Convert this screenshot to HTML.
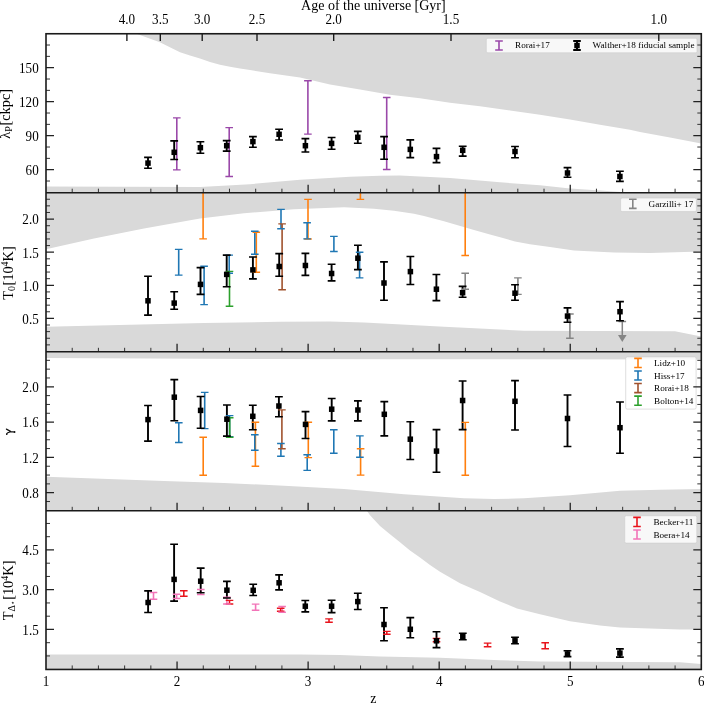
<!DOCTYPE html>
<html><head><meta charset="utf-8"><title>Thermal state of the IGM</title>
<style>html,body{margin:0;padding:0;background:#fff;}body{width:704px;height:703px;overflow:hidden;}svg{display:block;will-change:transform;font-family:"Liberation Serif",serif;}</style>
</head><body>
<svg width="704" height="703" viewBox="0 0 704 703" font-family="Liberation Serif, serif" fill="#000">
<defs>
<clipPath id="cp0"><rect x="46" y="33.75" width="655.3" height="158.95"/></clipPath>
<clipPath id="cp1"><rect x="46" y="192.7" width="655.3" height="159.1"/></clipPath>
<clipPath id="cp2"><rect x="46" y="351.8" width="655.3" height="159"/></clipPath>
<clipPath id="cp3"><rect x="46" y="510.8" width="655.3" height="158.65"/></clipPath>
</defs>
<rect width="704" height="703" fill="#fff"/>
<polygon clip-path="url(#cp0)" fill="#d9d9d9" points="135.8,33.75 135.8,33.6 159.8,42.3 180,52.3 190,55.5 200,58.6 210,62.1 220,64.7 230,66.8 240,68.5 250,70 270,73.2 300,77.6 330,84.5 360,89.6 390,94.8 420,98.3 450,102.7 480,106.2 510,110.4 540,114.7 570,119.6 600,124.7 630,129.8 640,132 670,137.6 701.2,143.6 701.2,33.75"/>
<polygon clip-path="url(#cp0)" fill="#d9d9d9" points="45.7,192.7 45.7,186.6 200,187 250,184.2 300,179.8 350,176.7 380,175.7 400,175.4 450,178.1 500,182.3 540,185.3 570,188.4 600,190.6 625,192.3 625,192.7"/>
<polygon clip-path="url(#cp1)" fill="#d9d9d9" points="45.7,192.7 45.7,249.2 94,238.4 144,228.4 200,218.5 244,213.2 294,209.3 344,207.2 374,208.7 394,210.7 414,213.8 424,216.1 444,221.2 474,229.9 490,234.5 502,237.8 515,241.4 530,244.2 550,246.9 574,250.4 594,251.5 614,252.4 650,252.9 701.2,251.6 701.2,192.7"/>
<polygon clip-path="url(#cp1)" fill="#d9d9d9" points="45.7,351.8 45.7,326.8 204,322.9 280,321.8 330,321.5 364,322.5 444,326.8 524,330.7 675,331.3 701.2,336.4 701.2,351.8"/>
<polygon clip-path="url(#cp2)" fill="#d9d9d9" points="45.7,351.8 45.7,357.9 200,358.8 400,359.2 701.2,359.5 701.2,351.8"/>
<polygon clip-path="url(#cp2)" fill="#d9d9d9" points="45.7,510.8 45.7,476.8 164,480.9 224,482.9 284,485.7 344,489.1 404,494.3 464,498.2 494,499 524,498.3 570,495.3 620,490.7 660,489.7 701.2,489 701.2,510.8"/>
<polygon clip-path="url(#cp3)" fill="#d9d9d9" points="366.5,510.8 366.5,510.3 370,515.3 380,526 390,534.2 400,542.3 410,550.4 420,557.6 430,564.9 440,571.7 450,577.4 460,583.2 480,592 500,601.5 517,608.5 540,614.3 570,621.3 600,625.5 620,627.4 680,629.5 701.2,629.6 701.2,510.8"/>
<polygon clip-path="url(#cp3)" fill="#d9d9d9" points="45.7,669.45 45.7,654.6 300,654.4 340,655 380,656.5 440,657.8 500,660.3 540,661.4 680,662.2 701.2,664 701.2,669.45"/>
<g stroke="#858585" stroke-width="1.5"><path d="M622.3 321.5V336M618.5 321.5H626.1"/></g>
<polygon fill="#858585" points="618,334.9 626.6,334.9 622.3,341.9"/>
<g fill="none">
<path clip-path="url(#cp0)" stroke="#000" stroke-width="1.9" d="M148 157.4V168.2"/>
<path clip-path="url(#cp0)" stroke="#000" stroke-width="1.9" d="M174.2 140.9V159.5"/>
<path clip-path="url(#cp0)" stroke="#000" stroke-width="1.9" d="M200.4 141.8V153.3"/>
<path clip-path="url(#cp0)" stroke="#000" stroke-width="1.9" d="M226.7 140.6V151.1"/>
<path clip-path="url(#cp0)" stroke="#000" stroke-width="1.9" d="M252.9 136.6V147.3"/>
<path clip-path="url(#cp0)" stroke="#000" stroke-width="1.9" d="M279.1 129.3V140"/>
<path clip-path="url(#cp0)" stroke="#000" stroke-width="1.9" d="M305.4 138.6V152"/>
<path clip-path="url(#cp0)" stroke="#000" stroke-width="1.9" d="M331.6 137.5V149.3"/>
<path clip-path="url(#cp0)" stroke="#000" stroke-width="1.9" d="M357.8 131.4V143.2"/>
<path clip-path="url(#cp0)" stroke="#000" stroke-width="1.9" d="M384.1 136.6V159.3"/>
<path clip-path="url(#cp0)" stroke="#000" stroke-width="1.9" d="M410.3 139.9V157.6"/>
<path clip-path="url(#cp0)" stroke="#000" stroke-width="1.9" d="M436.5 148.4V162.6"/>
<path clip-path="url(#cp0)" stroke="#000" stroke-width="1.9" d="M462.7 146.2V156.1"/>
<path clip-path="url(#cp0)" stroke="#000" stroke-width="1.9" d="M515 146.5V157.8"/>
<path clip-path="url(#cp0)" stroke="#000" stroke-width="1.9" d="M567.5 167.6V177.2"/>
<path clip-path="url(#cp0)" stroke="#000" stroke-width="1.9" d="M619.9 171.3V181.4"/>
<path clip-path="url(#cp0)" stroke="#9a48a9" stroke-width="1.6" d="M176.8 117.9V169.9"/>
<path clip-path="url(#cp0)" stroke="#9a48a9" stroke-width="1.6" d="M229.2 127.6V176.5"/>
<path clip-path="url(#cp0)" stroke="#9a48a9" stroke-width="1.6" d="M307.9 80.8V134.1"/>
<path clip-path="url(#cp0)" stroke="#9a48a9" stroke-width="1.6" d="M386.7 97.5V169.5"/>
<path clip-path="url(#cp1)" stroke="#ff7f0e" stroke-width="1.6" d="M203.1 150V238.9"/>
<path clip-path="url(#cp1)" stroke="#ff7f0e" stroke-width="1.6" d="M256.3 232.2V272.2"/>
<path clip-path="url(#cp1)" stroke="#ff7f0e" stroke-width="1.6" d="M308 199.4V239"/>
<path clip-path="url(#cp1)" stroke="#ff7f0e" stroke-width="1.6" d="M360.4 150V199.4"/>
<path clip-path="url(#cp1)" stroke="#ff7f0e" stroke-width="1.6" d="M465.2 150V255.5"/>
<path clip-path="url(#cp1)" stroke="#1f77b4" stroke-width="1.6" d="M178.7 249.4V275.1"/>
<path clip-path="url(#cp1)" stroke="#1f77b4" stroke-width="1.6" d="M204.1 266.3V304.6"/>
<path clip-path="url(#cp1)" stroke="#1f77b4" stroke-width="1.6" d="M229.2 255.1V273.3"/>
<path clip-path="url(#cp1)" stroke="#1f77b4" stroke-width="1.6" d="M254.8 231.2V254.3"/>
<path clip-path="url(#cp1)" stroke="#1f77b4" stroke-width="1.6" d="M281 209.4V228.7"/>
<path clip-path="url(#cp1)" stroke="#1f77b4" stroke-width="1.6" d="M307.1 222.7V238.9"/>
<path clip-path="url(#cp1)" stroke="#1f77b4" stroke-width="1.6" d="M333.9 236.4V251.5"/>
<path clip-path="url(#cp1)" stroke="#1f77b4" stroke-width="1.6" d="M359.6 252.3V277.9"/>
<path clip-path="url(#cp1)" stroke="#a0522d" stroke-width="1.6" d="M282.1 223.9V289.8"/>
<path clip-path="url(#cp1)" stroke="#2ca02c" stroke-width="1.6" d="M229.5 271.4V306.3"/>
<path clip-path="url(#cp1)" stroke="#858585" stroke-width="1.6" d="M465.2 273.3V289.2"/>
<path clip-path="url(#cp1)" stroke="#858585" stroke-width="1.6" d="M517.9 277.9V294.4"/>
<path clip-path="url(#cp1)" stroke="#858585" stroke-width="1.6" d="M569.9 314V338.3"/>
<path clip-path="url(#cp1)" stroke="#000" stroke-width="1.9" d="M148 276.2V315.1"/>
<path clip-path="url(#cp1)" stroke="#000" stroke-width="1.9" d="M174.2 291.7V309.2"/>
<path clip-path="url(#cp1)" stroke="#000" stroke-width="1.9" d="M200.5 267.6V294.4"/>
<path clip-path="url(#cp1)" stroke="#000" stroke-width="1.9" d="M226.7 255.1V286.8"/>
<path clip-path="url(#cp1)" stroke="#000" stroke-width="1.9" d="M252.9 257V278.9"/>
<path clip-path="url(#cp1)" stroke="#000" stroke-width="1.9" d="M279.2 253.6V276.2"/>
<path clip-path="url(#cp1)" stroke="#000" stroke-width="1.9" d="M305.4 253.4V275.4"/>
<path clip-path="url(#cp1)" stroke="#000" stroke-width="1.9" d="M331.6 264.2V280.9"/>
<path clip-path="url(#cp1)" stroke="#000" stroke-width="1.9" d="M357.9 245.2V269.6"/>
<path clip-path="url(#cp1)" stroke="#000" stroke-width="1.9" d="M384 261.9V300.3"/>
<path clip-path="url(#cp1)" stroke="#000" stroke-width="1.9" d="M410.4 256.5V284.5"/>
<path clip-path="url(#cp1)" stroke="#000" stroke-width="1.9" d="M436.4 274.5V300.6"/>
<path clip-path="url(#cp1)" stroke="#000" stroke-width="1.9" d="M462.6 286.4V297.2"/>
<path clip-path="url(#cp1)" stroke="#000" stroke-width="1.9" d="M515 284.7V300.3"/>
<path clip-path="url(#cp1)" stroke="#000" stroke-width="1.9" d="M567.5 307.9V322.2"/>
<path clip-path="url(#cp1)" stroke="#000" stroke-width="1.9" d="M620 301.6V320.8"/>
<path clip-path="url(#cp2)" stroke="#ff7f0e" stroke-width="1.6" d="M203.2 437.3V475.2"/>
<path clip-path="url(#cp2)" stroke="#ff7f0e" stroke-width="1.6" d="M255.4 422.3V466.3"/>
<path clip-path="url(#cp2)" stroke="#ff7f0e" stroke-width="1.6" d="M308.3 422.3V457.6"/>
<path clip-path="url(#cp2)" stroke="#ff7f0e" stroke-width="1.6" d="M360.6 448.8V475.1"/>
<path clip-path="url(#cp2)" stroke="#ff7f0e" stroke-width="1.6" d="M465.3 422.4V475.2"/>
<path clip-path="url(#cp2)" stroke="#1f77b4" stroke-width="1.6" d="M178.8 422.8V442.5"/>
<path clip-path="url(#cp2)" stroke="#1f77b4" stroke-width="1.6" d="M204.7 392.4V428.6"/>
<path clip-path="url(#cp2)" stroke="#1f77b4" stroke-width="1.6" d="M229.6 415.6V436.6"/>
<path clip-path="url(#cp2)" stroke="#1f77b4" stroke-width="1.6" d="M254.8 434.8V450.2"/>
<path clip-path="url(#cp2)" stroke="#1f77b4" stroke-width="1.6" d="M280.9 443.5V456.2"/>
<path clip-path="url(#cp2)" stroke="#1f77b4" stroke-width="1.6" d="M307.2 454.7V470.4"/>
<path clip-path="url(#cp2)" stroke="#1f77b4" stroke-width="1.6" d="M333.8 429.8V453.3"/>
<path clip-path="url(#cp2)" stroke="#1f77b4" stroke-width="1.6" d="M359.9 435.9V457.3"/>
<path clip-path="url(#cp2)" stroke="#a0522d" stroke-width="1.6" d="M281.9 409.9V448.8"/>
<path clip-path="url(#cp2)" stroke="#2ca02c" stroke-width="1.6" d="M229.7 417.8V437.2"/>
<path clip-path="url(#cp2)" stroke="#000" stroke-width="1.9" d="M148 405.5V441.1"/>
<path clip-path="url(#cp2)" stroke="#000" stroke-width="1.9" d="M174.3 379.6V420.8"/>
<path clip-path="url(#cp2)" stroke="#000" stroke-width="1.9" d="M200.6 396.5V428.3"/>
<path clip-path="url(#cp2)" stroke="#000" stroke-width="1.9" d="M226.9 405V436.1"/>
<path clip-path="url(#cp2)" stroke="#000" stroke-width="1.9" d="M252.8 405.2V429.7"/>
<path clip-path="url(#cp2)" stroke="#000" stroke-width="1.9" d="M278.9 396.7V416.7"/>
<path clip-path="url(#cp2)" stroke="#000" stroke-width="1.9" d="M305.5 411.6V438.5"/>
<path clip-path="url(#cp2)" stroke="#000" stroke-width="1.9" d="M331.7 398.5V420.9"/>
<path clip-path="url(#cp2)" stroke="#000" stroke-width="1.9" d="M357.9 400.9V420.9"/>
<path clip-path="url(#cp2)" stroke="#000" stroke-width="1.9" d="M384.3 401.6V435.9"/>
<path clip-path="url(#cp2)" stroke="#000" stroke-width="1.9" d="M410.3 421.7V459.5"/>
<path clip-path="url(#cp2)" stroke="#000" stroke-width="1.9" d="M436.5 429.6V472.2"/>
<path clip-path="url(#cp2)" stroke="#000" stroke-width="1.9" d="M462.6 381V429.6"/>
<path clip-path="url(#cp2)" stroke="#000" stroke-width="1.9" d="M515 380.6V430"/>
<path clip-path="url(#cp2)" stroke="#000" stroke-width="1.9" d="M567.5 395V446.5"/>
<path clip-path="url(#cp2)" stroke="#000" stroke-width="1.9" d="M620 402V453.2"/>
<path clip-path="url(#cp3)" stroke="#e8141c" stroke-width="1.6" d="M183.8 590.7V596.3"/>
<path clip-path="url(#cp3)" stroke="#e8141c" stroke-width="1.6" d="M229.5 600.4V604"/>
<path clip-path="url(#cp3)" stroke="#e8141c" stroke-width="1.6" d="M280.7 608.3V611.3"/>
<path clip-path="url(#cp3)" stroke="#e8141c" stroke-width="1.6" d="M329 618.9V622.3"/>
<path clip-path="url(#cp3)" stroke="#e8141c" stroke-width="1.6" d="M386.8 631.4V634.3"/>
<path clip-path="url(#cp3)" stroke="#e8141c" stroke-width="1.6" d="M436.5 638.4V641.8"/>
<path clip-path="url(#cp3)" stroke="#e8141c" stroke-width="1.6" d="M487.6 643.1V646.7"/>
<path clip-path="url(#cp3)" stroke="#e8141c" stroke-width="1.6" d="M545.2 642.7V648.8"/>
<path clip-path="url(#cp3)" stroke="#f274b8" stroke-width="1.6" d="M153.5 592.5V599.2"/>
<path clip-path="url(#cp3)" stroke="#f274b8" stroke-width="1.6" d="M176.6 594.2V598.5"/>
<path clip-path="url(#cp3)" stroke="#f274b8" stroke-width="1.6" d="M200.8 589.5V594.6"/>
<path clip-path="url(#cp3)" stroke="#f274b8" stroke-width="1.6" d="M226.9 597.3V604"/>
<path clip-path="url(#cp3)" stroke="#f274b8" stroke-width="1.6" d="M255.6 604.1V610.2"/>
<path clip-path="url(#cp3)" stroke="#f274b8" stroke-width="1.6" d="M282.1 606.5V612.2"/>
<path clip-path="url(#cp3)" stroke="#000" stroke-width="1.9" d="M148.1 590.9V612.5"/>
<path clip-path="url(#cp3)" stroke="#000" stroke-width="1.9" d="M174.1 544.2V601.1"/>
<path clip-path="url(#cp3)" stroke="#000" stroke-width="1.9" d="M200.7 568.1V592.7"/>
<path clip-path="url(#cp3)" stroke="#000" stroke-width="1.9" d="M226.9 581.4V598"/>
<path clip-path="url(#cp3)" stroke="#000" stroke-width="1.9" d="M253.2 584.2V595.5"/>
<path clip-path="url(#cp3)" stroke="#000" stroke-width="1.9" d="M279.1 574.9V589.9"/>
<path clip-path="url(#cp3)" stroke="#000" stroke-width="1.9" d="M305.3 600.5V611.9"/>
<path clip-path="url(#cp3)" stroke="#000" stroke-width="1.9" d="M331.6 600.2V612.6"/>
<path clip-path="url(#cp3)" stroke="#000" stroke-width="1.9" d="M357.8 593.2V609.5"/>
<path clip-path="url(#cp3)" stroke="#000" stroke-width="1.9" d="M384 607.7V640.8"/>
<path clip-path="url(#cp3)" stroke="#000" stroke-width="1.9" d="M410.3 617.6V637.8"/>
<path clip-path="url(#cp3)" stroke="#000" stroke-width="1.9" d="M436.5 631.8V647.6"/>
<path clip-path="url(#cp3)" stroke="#000" stroke-width="1.9" d="M462.8 633.2V639.8"/>
<path clip-path="url(#cp3)" stroke="#000" stroke-width="1.9" d="M515 637.2V643.7"/>
<path clip-path="url(#cp3)" stroke="#000" stroke-width="1.9" d="M567.5 650.8V656.6"/>
<path clip-path="url(#cp3)" stroke="#000" stroke-width="1.9" d="M619.9 648.9V657.1"/>
<path clip-path="url(#cp0)" stroke="#000" stroke-width="1.6" d="M144.1 157.4H151.9M144.1 168.2H151.9"/>
<path clip-path="url(#cp0)" stroke="#000" stroke-width="1.6" d="M170.3 140.9H178.1M170.3 159.5H178.1"/>
<path clip-path="url(#cp0)" stroke="#000" stroke-width="1.6" d="M196.5 141.8H204.3M196.5 153.3H204.3"/>
<path clip-path="url(#cp0)" stroke="#000" stroke-width="1.6" d="M222.8 140.6H230.6M222.8 151.1H230.6"/>
<path clip-path="url(#cp0)" stroke="#000" stroke-width="1.6" d="M249 136.6H256.8M249 147.3H256.8"/>
<path clip-path="url(#cp0)" stroke="#000" stroke-width="1.6" d="M275.2 129.3H283M275.2 140H283"/>
<path clip-path="url(#cp0)" stroke="#000" stroke-width="1.6" d="M301.5 138.6H309.3M301.5 152H309.3"/>
<path clip-path="url(#cp0)" stroke="#000" stroke-width="1.6" d="M327.7 137.5H335.5M327.7 149.3H335.5"/>
<path clip-path="url(#cp0)" stroke="#000" stroke-width="1.6" d="M353.9 131.4H361.7M353.9 143.2H361.7"/>
<path clip-path="url(#cp0)" stroke="#000" stroke-width="1.6" d="M380.2 136.6H388M380.2 159.3H388"/>
<path clip-path="url(#cp0)" stroke="#000" stroke-width="1.6" d="M406.4 139.9H414.2M406.4 157.6H414.2"/>
<path clip-path="url(#cp0)" stroke="#000" stroke-width="1.6" d="M432.6 148.4H440.4M432.6 162.6H440.4"/>
<path clip-path="url(#cp0)" stroke="#000" stroke-width="1.6" d="M458.8 146.2H466.6M458.8 156.1H466.6"/>
<path clip-path="url(#cp0)" stroke="#000" stroke-width="1.6" d="M511.1 146.5H518.9M511.1 157.8H518.9"/>
<path clip-path="url(#cp0)" stroke="#000" stroke-width="1.6" d="M563.6 167.6H571.4M563.6 177.2H571.4"/>
<path clip-path="url(#cp0)" stroke="#000" stroke-width="1.6" d="M616 171.3H623.8M616 181.4H623.8"/>
<path clip-path="url(#cp0)" stroke="#9a48a9" stroke-width="1.4" d="M173 117.9H180.6M173 169.9H180.6"/>
<path clip-path="url(#cp0)" stroke="#9a48a9" stroke-width="1.4" d="M225.4 127.6H233M225.4 176.5H233"/>
<path clip-path="url(#cp0)" stroke="#9a48a9" stroke-width="1.4" d="M304.1 80.8H311.7M304.1 134.1H311.7"/>
<path clip-path="url(#cp0)" stroke="#9a48a9" stroke-width="1.4" d="M382.9 97.5H390.5M382.9 169.5H390.5"/>
<path clip-path="url(#cp1)" stroke="#ff7f0e" stroke-width="1.4" d="M199.3 150H206.9M199.3 238.9H206.9"/>
<path clip-path="url(#cp1)" stroke="#ff7f0e" stroke-width="1.4" d="M252.5 232.2H260.1M252.5 272.2H260.1"/>
<path clip-path="url(#cp1)" stroke="#ff7f0e" stroke-width="1.4" d="M304.2 199.4H311.8M304.2 239H311.8"/>
<path clip-path="url(#cp1)" stroke="#ff7f0e" stroke-width="1.4" d="M356.6 150H364.2M356.6 199.4H364.2"/>
<path clip-path="url(#cp1)" stroke="#ff7f0e" stroke-width="1.4" d="M461.4 150H469M461.4 255.5H469"/>
<path clip-path="url(#cp1)" stroke="#1f77b4" stroke-width="1.4" d="M174.9 249.4H182.5M174.9 275.1H182.5"/>
<path clip-path="url(#cp1)" stroke="#1f77b4" stroke-width="1.4" d="M200.3 266.3H207.9M200.3 304.6H207.9"/>
<path clip-path="url(#cp1)" stroke="#1f77b4" stroke-width="1.4" d="M225.4 255.1H233M225.4 273.3H233"/>
<path clip-path="url(#cp1)" stroke="#1f77b4" stroke-width="1.4" d="M251 231.2H258.6M251 254.3H258.6"/>
<path clip-path="url(#cp1)" stroke="#1f77b4" stroke-width="1.4" d="M277.2 209.4H284.8M277.2 228.7H284.8"/>
<path clip-path="url(#cp1)" stroke="#1f77b4" stroke-width="1.4" d="M303.3 222.7H310.9M303.3 238.9H310.9"/>
<path clip-path="url(#cp1)" stroke="#1f77b4" stroke-width="1.4" d="M330.1 236.4H337.7M330.1 251.5H337.7"/>
<path clip-path="url(#cp1)" stroke="#1f77b4" stroke-width="1.4" d="M355.8 252.3H363.4M355.8 277.9H363.4"/>
<path clip-path="url(#cp1)" stroke="#a0522d" stroke-width="1.4" d="M278.3 223.9H285.9M278.3 289.8H285.9"/>
<path clip-path="url(#cp1)" stroke="#2ca02c" stroke-width="1.4" d="M225.7 271.4H233.3M225.7 306.3H233.3"/>
<path clip-path="url(#cp1)" stroke="#858585" stroke-width="1.4" d="M461.4 273.3H469M461.4 289.2H469"/>
<path clip-path="url(#cp1)" stroke="#858585" stroke-width="1.4" d="M514.1 277.9H521.7M514.1 294.4H521.7"/>
<path clip-path="url(#cp1)" stroke="#858585" stroke-width="1.4" d="M566.1 314H573.7M566.1 338.3H573.7"/>
<path clip-path="url(#cp1)" stroke="#000" stroke-width="1.6" d="M144.1 276.2H151.9M144.1 315.1H151.9"/>
<path clip-path="url(#cp1)" stroke="#000" stroke-width="1.6" d="M170.3 291.7H178.1M170.3 309.2H178.1"/>
<path clip-path="url(#cp1)" stroke="#000" stroke-width="1.6" d="M196.6 267.6H204.4M196.6 294.4H204.4"/>
<path clip-path="url(#cp1)" stroke="#000" stroke-width="1.6" d="M222.8 255.1H230.6M222.8 286.8H230.6"/>
<path clip-path="url(#cp1)" stroke="#000" stroke-width="1.6" d="M249 257H256.8M249 278.9H256.8"/>
<path clip-path="url(#cp1)" stroke="#000" stroke-width="1.6" d="M275.3 253.6H283.1M275.3 276.2H283.1"/>
<path clip-path="url(#cp1)" stroke="#000" stroke-width="1.6" d="M301.5 253.4H309.3M301.5 275.4H309.3"/>
<path clip-path="url(#cp1)" stroke="#000" stroke-width="1.6" d="M327.7 264.2H335.5M327.7 280.9H335.5"/>
<path clip-path="url(#cp1)" stroke="#000" stroke-width="1.6" d="M354 245.2H361.8M354 269.6H361.8"/>
<path clip-path="url(#cp1)" stroke="#000" stroke-width="1.6" d="M380.1 261.9H387.9M380.1 300.3H387.9"/>
<path clip-path="url(#cp1)" stroke="#000" stroke-width="1.6" d="M406.5 256.5H414.3M406.5 284.5H414.3"/>
<path clip-path="url(#cp1)" stroke="#000" stroke-width="1.6" d="M432.5 274.5H440.3M432.5 300.6H440.3"/>
<path clip-path="url(#cp1)" stroke="#000" stroke-width="1.6" d="M458.7 286.4H466.5M458.7 297.2H466.5"/>
<path clip-path="url(#cp1)" stroke="#000" stroke-width="1.6" d="M511.1 284.7H518.9M511.1 300.3H518.9"/>
<path clip-path="url(#cp1)" stroke="#000" stroke-width="1.6" d="M563.6 307.9H571.4M563.6 322.2H571.4"/>
<path clip-path="url(#cp1)" stroke="#000" stroke-width="1.6" d="M616.1 301.6H623.9M616.1 320.8H623.9"/>
<path clip-path="url(#cp2)" stroke="#ff7f0e" stroke-width="1.4" d="M199.4 437.3H207M199.4 475.2H207"/>
<path clip-path="url(#cp2)" stroke="#ff7f0e" stroke-width="1.4" d="M251.6 422.3H259.2M251.6 466.3H259.2"/>
<path clip-path="url(#cp2)" stroke="#ff7f0e" stroke-width="1.4" d="M304.5 422.3H312.1M304.5 457.6H312.1"/>
<path clip-path="url(#cp2)" stroke="#ff7f0e" stroke-width="1.4" d="M356.8 448.8H364.4M356.8 475.1H364.4"/>
<path clip-path="url(#cp2)" stroke="#ff7f0e" stroke-width="1.4" d="M461.5 422.4H469.1M461.5 475.2H469.1"/>
<path clip-path="url(#cp2)" stroke="#1f77b4" stroke-width="1.4" d="M175 422.8H182.6M175 442.5H182.6"/>
<path clip-path="url(#cp2)" stroke="#1f77b4" stroke-width="1.4" d="M200.9 392.4H208.5M200.9 428.6H208.5"/>
<path clip-path="url(#cp2)" stroke="#1f77b4" stroke-width="1.4" d="M225.8 415.6H233.4M225.8 436.6H233.4"/>
<path clip-path="url(#cp2)" stroke="#1f77b4" stroke-width="1.4" d="M251 434.8H258.6M251 450.2H258.6"/>
<path clip-path="url(#cp2)" stroke="#1f77b4" stroke-width="1.4" d="M277.1 443.5H284.7M277.1 456.2H284.7"/>
<path clip-path="url(#cp2)" stroke="#1f77b4" stroke-width="1.4" d="M303.4 454.7H311M303.4 470.4H311"/>
<path clip-path="url(#cp2)" stroke="#1f77b4" stroke-width="1.4" d="M330 429.8H337.6M330 453.3H337.6"/>
<path clip-path="url(#cp2)" stroke="#1f77b4" stroke-width="1.4" d="M356.1 435.9H363.7M356.1 457.3H363.7"/>
<path clip-path="url(#cp2)" stroke="#a0522d" stroke-width="1.4" d="M278.1 409.9H285.7M278.1 448.8H285.7"/>
<path clip-path="url(#cp2)" stroke="#2ca02c" stroke-width="1.4" d="M225.9 417.8H233.5M225.9 437.2H233.5"/>
<path clip-path="url(#cp2)" stroke="#000" stroke-width="1.6" d="M144.1 405.5H151.9M144.1 441.1H151.9"/>
<path clip-path="url(#cp2)" stroke="#000" stroke-width="1.6" d="M170.4 379.6H178.2M170.4 420.8H178.2"/>
<path clip-path="url(#cp2)" stroke="#000" stroke-width="1.6" d="M196.7 396.5H204.5M196.7 428.3H204.5"/>
<path clip-path="url(#cp2)" stroke="#000" stroke-width="1.6" d="M223 405H230.8M223 436.1H230.8"/>
<path clip-path="url(#cp2)" stroke="#000" stroke-width="1.6" d="M248.9 405.2H256.7M248.9 429.7H256.7"/>
<path clip-path="url(#cp2)" stroke="#000" stroke-width="1.6" d="M275 396.7H282.8M275 416.7H282.8"/>
<path clip-path="url(#cp2)" stroke="#000" stroke-width="1.6" d="M301.6 411.6H309.4M301.6 438.5H309.4"/>
<path clip-path="url(#cp2)" stroke="#000" stroke-width="1.6" d="M327.8 398.5H335.6M327.8 420.9H335.6"/>
<path clip-path="url(#cp2)" stroke="#000" stroke-width="1.6" d="M354 400.9H361.8M354 420.9H361.8"/>
<path clip-path="url(#cp2)" stroke="#000" stroke-width="1.6" d="M380.4 401.6H388.2M380.4 435.9H388.2"/>
<path clip-path="url(#cp2)" stroke="#000" stroke-width="1.6" d="M406.4 421.7H414.2M406.4 459.5H414.2"/>
<path clip-path="url(#cp2)" stroke="#000" stroke-width="1.6" d="M432.6 429.6H440.4M432.6 472.2H440.4"/>
<path clip-path="url(#cp2)" stroke="#000" stroke-width="1.6" d="M458.7 381H466.5M458.7 429.6H466.5"/>
<path clip-path="url(#cp2)" stroke="#000" stroke-width="1.6" d="M511.1 380.6H518.9M511.1 430H518.9"/>
<path clip-path="url(#cp2)" stroke="#000" stroke-width="1.6" d="M563.6 395H571.4M563.6 446.5H571.4"/>
<path clip-path="url(#cp2)" stroke="#000" stroke-width="1.6" d="M616.1 402H623.9M616.1 453.2H623.9"/>
<path clip-path="url(#cp3)" stroke="#e8141c" stroke-width="1.4" d="M180 590.7H187.6M180 596.3H187.6"/>
<path clip-path="url(#cp3)" stroke="#e8141c" stroke-width="1.4" d="M225.7 600.4H233.3M225.7 604H233.3"/>
<path clip-path="url(#cp3)" stroke="#e8141c" stroke-width="1.4" d="M276.9 608.3H284.5M276.9 611.3H284.5"/>
<path clip-path="url(#cp3)" stroke="#e8141c" stroke-width="1.4" d="M325.2 618.9H332.8M325.2 622.3H332.8"/>
<path clip-path="url(#cp3)" stroke="#e8141c" stroke-width="1.4" d="M383 631.4H390.6M383 634.3H390.6"/>
<path clip-path="url(#cp3)" stroke="#e8141c" stroke-width="1.4" d="M432.7 638.4H440.3M432.7 641.8H440.3"/>
<path clip-path="url(#cp3)" stroke="#e8141c" stroke-width="1.4" d="M483.8 643.1H491.4M483.8 646.7H491.4"/>
<path clip-path="url(#cp3)" stroke="#e8141c" stroke-width="1.4" d="M541.4 642.7H549M541.4 648.8H549"/>
<path clip-path="url(#cp3)" stroke="#f274b8" stroke-width="1.4" d="M149.7 592.5H157.3M149.7 599.2H157.3"/>
<path clip-path="url(#cp3)" stroke="#f274b8" stroke-width="1.4" d="M172.8 594.2H180.4M172.8 598.5H180.4"/>
<path clip-path="url(#cp3)" stroke="#f274b8" stroke-width="1.4" d="M197 589.5H204.6M197 594.6H204.6"/>
<path clip-path="url(#cp3)" stroke="#f274b8" stroke-width="1.4" d="M223.1 597.3H230.7M223.1 604H230.7"/>
<path clip-path="url(#cp3)" stroke="#f274b8" stroke-width="1.4" d="M251.8 604.1H259.4M251.8 610.2H259.4"/>
<path clip-path="url(#cp3)" stroke="#f274b8" stroke-width="1.4" d="M278.3 606.5H285.9M278.3 612.2H285.9"/>
<path clip-path="url(#cp3)" stroke="#000" stroke-width="1.6" d="M144.2 590.9H152M144.2 612.5H152"/>
<path clip-path="url(#cp3)" stroke="#000" stroke-width="1.6" d="M170.2 544.2H178M170.2 601.1H178"/>
<path clip-path="url(#cp3)" stroke="#000" stroke-width="1.6" d="M196.8 568.1H204.6M196.8 592.7H204.6"/>
<path clip-path="url(#cp3)" stroke="#000" stroke-width="1.6" d="M223 581.4H230.8M223 598H230.8"/>
<path clip-path="url(#cp3)" stroke="#000" stroke-width="1.6" d="M249.3 584.2H257.1M249.3 595.5H257.1"/>
<path clip-path="url(#cp3)" stroke="#000" stroke-width="1.6" d="M275.2 574.9H283M275.2 589.9H283"/>
<path clip-path="url(#cp3)" stroke="#000" stroke-width="1.6" d="M301.4 600.5H309.2M301.4 611.9H309.2"/>
<path clip-path="url(#cp3)" stroke="#000" stroke-width="1.6" d="M327.7 600.2H335.5M327.7 612.6H335.5"/>
<path clip-path="url(#cp3)" stroke="#000" stroke-width="1.6" d="M353.9 593.2H361.7M353.9 609.5H361.7"/>
<path clip-path="url(#cp3)" stroke="#000" stroke-width="1.6" d="M380.1 607.7H387.9M380.1 640.8H387.9"/>
<path clip-path="url(#cp3)" stroke="#000" stroke-width="1.6" d="M406.4 617.6H414.2M406.4 637.8H414.2"/>
<path clip-path="url(#cp3)" stroke="#000" stroke-width="1.6" d="M432.6 631.8H440.4M432.6 647.6H440.4"/>
<path clip-path="url(#cp3)" stroke="#000" stroke-width="1.6" d="M458.9 633.2H466.7M458.9 639.8H466.7"/>
<path clip-path="url(#cp3)" stroke="#000" stroke-width="1.6" d="M511.1 637.2H518.9M511.1 643.7H518.9"/>
<path clip-path="url(#cp3)" stroke="#000" stroke-width="1.6" d="M563.6 650.8H571.4M563.6 656.6H571.4"/>
<path clip-path="url(#cp3)" stroke="#000" stroke-width="1.6" d="M616 648.9H623.8M616 657.1H623.8"/>
</g>
<rect x="145.25" y="160.35" width="5.5" height="5.5" fill="#000"/>
<rect x="171.45" y="149.55" width="5.5" height="5.5" fill="#000"/>
<rect x="197.65" y="144.95" width="5.5" height="5.5" fill="#000"/>
<rect x="223.95" y="142.95" width="5.5" height="5.5" fill="#000"/>
<rect x="250.15" y="138.85" width="5.5" height="5.5" fill="#000"/>
<rect x="276.35" y="131.55" width="5.5" height="5.5" fill="#000"/>
<rect x="302.65" y="142.95" width="5.5" height="5.5" fill="#000"/>
<rect x="328.85" y="140.65" width="5.5" height="5.5" fill="#000"/>
<rect x="355.05" y="134.55" width="5.5" height="5.5" fill="#000"/>
<rect x="381.35" y="144.55" width="5.5" height="5.5" fill="#000"/>
<rect x="407.55" y="146.65" width="5.5" height="5.5" fill="#000"/>
<rect x="433.75" y="153.85" width="5.5" height="5.5" fill="#000"/>
<rect x="459.95" y="147.55" width="5.5" height="5.5" fill="#000"/>
<rect x="512.25" y="148.75" width="5.5" height="5.5" fill="#000"/>
<rect x="564.75" y="170.25" width="5.5" height="5.5" fill="#000"/>
<rect x="617.15" y="173.75" width="5.5" height="5.5" fill="#000"/>
<rect x="145.25" y="298.05" width="5.5" height="5.5" fill="#000"/>
<rect x="171.45" y="300.35" width="5.5" height="5.5" fill="#000"/>
<rect x="197.75" y="281.65" width="5.5" height="5.5" fill="#000"/>
<rect x="223.95" y="271.65" width="5.5" height="5.5" fill="#000"/>
<rect x="250.15" y="267.15" width="5.5" height="5.5" fill="#000"/>
<rect x="276.45" y="263.75" width="5.5" height="5.5" fill="#000"/>
<rect x="302.65" y="262.75" width="5.5" height="5.5" fill="#000"/>
<rect x="328.85" y="270.75" width="5.5" height="5.5" fill="#000"/>
<rect x="355.15" y="255.45" width="5.5" height="5.5" fill="#000"/>
<rect x="381.25" y="280.25" width="5.5" height="5.5" fill="#000"/>
<rect x="407.65" y="268.85" width="5.5" height="5.5" fill="#000"/>
<rect x="433.65" y="286.45" width="5.5" height="5.5" fill="#000"/>
<rect x="459.85" y="289.95" width="5.5" height="5.5" fill="#000"/>
<rect x="512.25" y="290.45" width="5.5" height="5.5" fill="#000"/>
<rect x="564.75" y="313.35" width="5.5" height="5.5" fill="#000"/>
<rect x="617.25" y="308.95" width="5.5" height="5.5" fill="#000"/>
<rect x="145.25" y="416.85" width="5.5" height="5.5" fill="#000"/>
<rect x="171.55" y="394.45" width="5.5" height="5.5" fill="#000"/>
<rect x="197.85" y="407.65" width="5.5" height="5.5" fill="#000"/>
<rect x="224.15" y="416.45" width="5.5" height="5.5" fill="#000"/>
<rect x="250.05" y="413.55" width="5.5" height="5.5" fill="#000"/>
<rect x="276.15" y="403.25" width="5.5" height="5.5" fill="#000"/>
<rect x="302.75" y="421.65" width="5.5" height="5.5" fill="#000"/>
<rect x="328.95" y="406.45" width="5.5" height="5.5" fill="#000"/>
<rect x="355.15" y="407.25" width="5.5" height="5.5" fill="#000"/>
<rect x="381.55" y="411.55" width="5.5" height="5.5" fill="#000"/>
<rect x="407.55" y="436.45" width="5.5" height="5.5" fill="#000"/>
<rect x="433.75" y="448.35" width="5.5" height="5.5" fill="#000"/>
<rect x="459.85" y="397.75" width="5.5" height="5.5" fill="#000"/>
<rect x="512.25" y="398.55" width="5.5" height="5.5" fill="#000"/>
<rect x="564.75" y="415.75" width="5.5" height="5.5" fill="#000"/>
<rect x="617.25" y="424.95" width="5.5" height="5.5" fill="#000"/>
<rect x="145.35" y="599.75" width="5.5" height="5.5" fill="#000"/>
<rect x="171.35" y="576.65" width="5.5" height="5.5" fill="#000"/>
<rect x="197.95" y="578.45" width="5.5" height="5.5" fill="#000"/>
<rect x="224.15" y="587.45" width="5.5" height="5.5" fill="#000"/>
<rect x="250.45" y="587.55" width="5.5" height="5.5" fill="#000"/>
<rect x="276.35" y="580.05" width="5.5" height="5.5" fill="#000"/>
<rect x="302.55" y="603.45" width="5.5" height="5.5" fill="#000"/>
<rect x="328.85" y="603.45" width="5.5" height="5.5" fill="#000"/>
<rect x="355.05" y="598.85" width="5.5" height="5.5" fill="#000"/>
<rect x="381.25" y="621.75" width="5.5" height="5.5" fill="#000"/>
<rect x="407.55" y="626.55" width="5.5" height="5.5" fill="#000"/>
<rect x="433.75" y="638.05" width="5.5" height="5.5" fill="#000"/>
<rect x="460.05" y="633.65" width="5.5" height="5.5" fill="#000"/>
<rect x="512.25" y="638.05" width="5.5" height="5.5" fill="#000"/>
<rect x="564.75" y="651.25" width="5.5" height="5.5" fill="#000"/>
<rect x="617.15" y="650.35" width="5.5" height="5.5" fill="#000"/>
<rect x="486.3" y="38.3" width="210.7" height="14.5" rx="1.5" fill="#fff" fill-opacity="0.8" stroke="#ccc" stroke-opacity="0.8" stroke-width="0.8"/>
<path stroke="#9a48a9" stroke-width="1.6" fill="none" d="M499 40.95V50.05M495.2 40.95H502.8M495.2 50.05H502.8"/>
<text x="515" y="48" font-size="9.2" text-anchor="start" >Rorai+17</text>
<path stroke="#000" stroke-width="2" fill="none" d="M577 40.95V50.05M573.2 40.95H580.8M573.2 50.05H580.8"/>
<rect x="574.25" y="42.75" width="5.5" height="5.5" fill="#000"/>
<text x="592.6" y="48" font-size="9.2" text-anchor="start" >Walther+18 fiducial sample</text>
<rect x="620.6" y="198" width="75.8" height="13.6" rx="1.5" fill="#fff" fill-opacity="0.8" stroke="#ccc" stroke-opacity="0.8" stroke-width="0.8"/>
<path stroke="#858585" stroke-width="1.6" fill="none" d="M632.8 199.25V208.35M629 199.25H636.6M629 208.35H636.6"/>
<text x="648.5" y="207.3" font-size="9.2" text-anchor="start" >Garzilli+ 17</text>
<rect x="625.7" y="356.9" width="70.4" height="52.2" rx="1.5" fill="#fff" fill-opacity="0.8" stroke="#ccc" stroke-opacity="0.8" stroke-width="0.8"/>
<path stroke="#ff7f0e" stroke-width="1.6" fill="none" d="M638 358.35V367.45M634.2 358.35H641.8M634.2 367.45H641.8"/>
<text x="654" y="366.2" font-size="9.2" text-anchor="start" >Lidz+10</text>
<path stroke="#1f77b4" stroke-width="1.6" fill="none" d="M638 370.95V380.05M634.2 370.95H641.8M634.2 380.05H641.8"/>
<text x="654" y="378.8" font-size="9.2" text-anchor="start" >Hiss+17</text>
<path stroke="#a0522d" stroke-width="1.6" fill="none" d="M638 383.55V392.65M634.2 383.55H641.8M634.2 392.65H641.8"/>
<text x="654" y="391.4" font-size="9.2" text-anchor="start" >Rorai+18</text>
<path stroke="#2ca02c" stroke-width="1.6" fill="none" d="M638 396.15V405.25M634.2 396.15H641.8M634.2 405.25H641.8"/>
<text x="654" y="404" font-size="9.2" text-anchor="start" >Bolton+14</text>
<rect x="624.7" y="515.7" width="72.1" height="27.4" rx="1.5" fill="#fff" fill-opacity="0.8" stroke="#ccc" stroke-opacity="0.8" stroke-width="0.8"/>
<path stroke="#e8141c" stroke-width="1.6" fill="none" d="M637 517.35V526.45M633.2 517.35H640.8M633.2 526.45H640.8"/>
<text x="653.4" y="525.2" font-size="9.2" text-anchor="start" >Becker+11</text>
<path stroke="#f274b8" stroke-width="1.6" fill="none" d="M637 529.95V539.05M633.2 529.95H640.8M633.2 539.05H640.8"/>
<text x="653.4" y="537.8" font-size="9.2" text-anchor="start" >Boera+14</text>
<path stroke="#222" stroke-width="1.3" d="M46 169.7H54M701.3 169.7H693.3M46 135.7H54M701.3 135.7H693.3M46 101.7H54M701.3 101.7H693.3M46 67.7H54M701.3 67.7H693.3"/>
<path stroke="#333" stroke-width="1" d="M46 181.03H50M701.3 181.03H697.3M46 158.37H50M701.3 158.37H697.3M46 147.03H50M701.3 147.03H697.3M46 124.37H50M701.3 124.37H697.3M46 113.03H50M701.3 113.03H697.3M46 90.37H50M701.3 90.37H697.3M46 79.03H50M701.3 79.03H697.3M46 56.37H50M701.3 56.37H697.3M46 45.03H50M701.3 45.03H697.3"/>
<path stroke="#222" stroke-width="1.3" d="M46 318.4H54M701.3 318.4H693.3M46 285.3H54M701.3 285.3H693.3M46 252.2H54M701.3 252.2H693.3M46 219.1H54M701.3 219.1H693.3"/>
<path stroke="#333" stroke-width="1" d="M46 344.88H50M701.3 344.88H697.3M46 338.26H50M701.3 338.26H697.3M46 331.64H50M701.3 331.64H697.3M46 325.02H50M701.3 325.02H697.3M46 311.78H50M701.3 311.78H697.3M46 305.16H50M701.3 305.16H697.3M46 298.54H50M701.3 298.54H697.3M46 291.92H50M701.3 291.92H697.3M46 278.68H50M701.3 278.68H697.3M46 272.06H50M701.3 272.06H697.3M46 265.44H50M701.3 265.44H697.3M46 258.82H50M701.3 258.82H697.3M46 245.58H50M701.3 245.58H697.3M46 238.96H50M701.3 238.96H697.3M46 232.34H50M701.3 232.34H697.3M46 225.72H50M701.3 225.72H697.3M46 212.48H50M701.3 212.48H697.3M46 205.86H50M701.3 205.86H697.3M46 199.24H50M701.3 199.24H697.3"/>
<path stroke="#222" stroke-width="1.3" d="M46 492.7H54M701.3 492.7H693.3M46 457.4H54M701.3 457.4H693.3M46 422.1H54M701.3 422.1H693.3M46 386.8H54M701.3 386.8H693.3"/>
<path stroke="#333" stroke-width="1" d="M46 501.52H50M701.3 501.52H697.3M46 483.88H50M701.3 483.88H697.3M46 475.05H50M701.3 475.05H697.3M46 466.22H50M701.3 466.22H697.3M46 448.57H50M701.3 448.57H697.3M46 439.75H50M701.3 439.75H697.3M46 430.93H50M701.3 430.93H697.3M46 413.27H50M701.3 413.27H697.3M46 404.45H50M701.3 404.45H697.3M46 395.62H50M701.3 395.62H697.3M46 377.98H50M701.3 377.98H697.3M46 369.15H50M701.3 369.15H697.3M46 360.33H50M701.3 360.33H697.3"/>
<path stroke="#222" stroke-width="1.3" d="M46 629.45H54M701.3 629.45H693.3M46 589.7H54M701.3 589.7H693.3M46 549.95H54M701.3 549.95H693.3"/>
<path stroke="#333" stroke-width="1" d="M46 655.95H50M701.3 655.95H697.3M46 642.7H50M701.3 642.7H697.3M46 616.2H50M701.3 616.2H697.3M46 602.95H50M701.3 602.95H697.3M46 576.45H50M701.3 576.45H697.3M46 563.2H50M701.3 563.2H697.3M46 536.7H50M701.3 536.7H697.3M46 523.45H50M701.3 523.45H697.3"/>
<path stroke="#222" stroke-width="1.3" d="M177.06 192.7V184.7M308.12 192.7V184.7M439.18 192.7V184.7M570.24 192.7V184.7"/>
<path stroke="#333" stroke-width="1" d="M72.21 192.7V188.7M98.42 192.7V188.7M124.64 192.7V188.7M150.85 192.7V188.7M203.27 192.7V188.7M229.48 192.7V188.7M255.7 192.7V188.7M281.91 192.7V188.7M334.33 192.7V188.7M360.54 192.7V188.7M386.76 192.7V188.7M412.97 192.7V188.7M465.39 192.7V188.7M491.6 192.7V188.7M517.82 192.7V188.7M544.03 192.7V188.7M596.45 192.7V188.7M622.66 192.7V188.7M648.88 192.7V188.7M675.09 192.7V188.7"/>
<path stroke="#222" stroke-width="1.3" d="M177.06 351.8V343.8M308.12 351.8V343.8M439.18 351.8V343.8M570.24 351.8V343.8"/>
<path stroke="#333" stroke-width="1" d="M72.21 351.8V347.8M98.42 351.8V347.8M124.64 351.8V347.8M150.85 351.8V347.8M203.27 351.8V347.8M229.48 351.8V347.8M255.7 351.8V347.8M281.91 351.8V347.8M334.33 351.8V347.8M360.54 351.8V347.8M386.76 351.8V347.8M412.97 351.8V347.8M465.39 351.8V347.8M491.6 351.8V347.8M517.82 351.8V347.8M544.03 351.8V347.8M596.45 351.8V347.8M622.66 351.8V347.8M648.88 351.8V347.8M675.09 351.8V347.8"/>
<path stroke="#222" stroke-width="1.3" d="M177.06 510.8V502.8M308.12 510.8V502.8M439.18 510.8V502.8M570.24 510.8V502.8"/>
<path stroke="#333" stroke-width="1" d="M72.21 510.8V506.8M98.42 510.8V506.8M124.64 510.8V506.8M150.85 510.8V506.8M203.27 510.8V506.8M229.48 510.8V506.8M255.7 510.8V506.8M281.91 510.8V506.8M334.33 510.8V506.8M360.54 510.8V506.8M386.76 510.8V506.8M412.97 510.8V506.8M465.39 510.8V506.8M491.6 510.8V506.8M517.82 510.8V506.8M544.03 510.8V506.8M596.45 510.8V506.8M622.66 510.8V506.8M648.88 510.8V506.8M675.09 510.8V506.8"/>
<path stroke="#222" stroke-width="1.3" d="M177.06 669.45V661.45M308.12 669.45V661.45M439.18 669.45V661.45M570.24 669.45V661.45"/>
<path stroke="#333" stroke-width="1" d="M72.21 669.45V665.45M98.42 669.45V665.45M124.64 669.45V665.45M150.85 669.45V665.45M203.27 669.45V665.45M229.48 669.45V665.45M255.7 669.45V665.45M281.91 669.45V665.45M334.33 669.45V665.45M360.54 669.45V665.45M386.76 669.45V665.45M412.97 669.45V665.45M465.39 669.45V665.45M491.6 669.45V665.45M517.82 669.45V665.45M544.03 669.45V665.45M596.45 669.45V665.45M622.66 669.45V665.45M648.88 669.45V665.45M675.09 669.45V665.45"/>
<path stroke="#111" stroke-width="1.3" d="M126.9 33.75V41.05M160.3 33.75V41.05M202.2 33.75V41.05M257 33.75V41.05M333.7 33.75V41.05M451 33.75V41.05M658.8 33.75V41.05"/>
<g fill="none" stroke="#1a1a1a" stroke-width="1.6">
<rect x="46" y="33.75" width="655.3" height="635.7"/>
<path d="M46 192.7H701.3M46 351.8H701.3M46 510.8H701.3"/>
</g>
<text transform="translate(126.9 24.1) scale(1 1.07)" font-size="13.1" text-anchor="middle" >4.0</text>
<text transform="translate(160.3 24.1) scale(1 1.07)" font-size="13.1" text-anchor="middle" >3.5</text>
<text transform="translate(202.2 24.1) scale(1 1.07)" font-size="13.1" text-anchor="middle" >3.0</text>
<text transform="translate(257 24.1) scale(1 1.07)" font-size="13.1" text-anchor="middle" >2.5</text>
<text transform="translate(333.7 24.1) scale(1 1.07)" font-size="13.1" text-anchor="middle" >2.0</text>
<text transform="translate(451 24.1) scale(1 1.07)" font-size="13.1" text-anchor="middle" >1.5</text>
<text transform="translate(658.8 24.1) scale(1 1.07)" font-size="13.1" text-anchor="middle" >1.0</text>
<text transform="translate(46 685.8) scale(1 1.07)" font-size="13.1" text-anchor="middle" >1</text>
<text transform="translate(177.06 685.8) scale(1 1.07)" font-size="13.1" text-anchor="middle" >2</text>
<text transform="translate(308.12 685.8) scale(1 1.07)" font-size="13.1" text-anchor="middle" >3</text>
<text transform="translate(439.18 685.8) scale(1 1.07)" font-size="13.1" text-anchor="middle" >4</text>
<text transform="translate(570.24 685.8) scale(1 1.07)" font-size="13.1" text-anchor="middle" >5</text>
<text transform="translate(701.3 685.8) scale(1 1.07)" font-size="13.1" text-anchor="middle" >6</text>
<text transform="translate(38.7 175) scale(1 1.07)" font-size="13.1" text-anchor="end" >60</text>
<text transform="translate(38.7 141) scale(1 1.07)" font-size="13.1" text-anchor="end" >90</text>
<text transform="translate(38.7 107) scale(1 1.07)" font-size="13.1" text-anchor="end" >120</text>
<text transform="translate(38.7 73) scale(1 1.07)" font-size="13.1" text-anchor="end" >150</text>
<text transform="translate(38.7 323.7) scale(1 1.07)" font-size="13.1" text-anchor="end" >0.5</text>
<text transform="translate(38.7 290.6) scale(1 1.07)" font-size="13.1" text-anchor="end" >1.0</text>
<text transform="translate(38.7 257.5) scale(1 1.07)" font-size="13.1" text-anchor="end" >1.5</text>
<text transform="translate(38.7 224.4) scale(1 1.07)" font-size="13.1" text-anchor="end" >2.0</text>
<text transform="translate(38.7 498) scale(1 1.07)" font-size="13.1" text-anchor="end" >0.8</text>
<text transform="translate(38.7 462.7) scale(1 1.07)" font-size="13.1" text-anchor="end" >1.2</text>
<text transform="translate(38.7 427.4) scale(1 1.07)" font-size="13.1" text-anchor="end" >1.6</text>
<text transform="translate(38.7 392.1) scale(1 1.07)" font-size="13.1" text-anchor="end" >2.0</text>
<text transform="translate(38.7 634.75) scale(1 1.07)" font-size="13.1" text-anchor="end" >1.5</text>
<text transform="translate(38.7 595) scale(1 1.07)" font-size="13.1" text-anchor="end" >3.0</text>
<text transform="translate(38.7 555.25) scale(1 1.07)" font-size="13.1" text-anchor="end" >4.5</text>
<text x="373.4" y="10.3" font-size="14" text-anchor="middle" >Age of the universe [Gyr]</text>
<text x="373.4" y="702.8" font-size="14" text-anchor="middle" >z</text>
<text transform="translate(9.8 113.8) rotate(-90)" font-size="14.4" text-anchor="middle">λ<tspan font-size="10" dy="2.2">P</tspan><tspan dy="-2.2" dx="0.6">[ckpc]</tspan></text>
<text transform="translate(13.4 273) rotate(-90)" font-size="14.4" text-anchor="middle">T<tspan font-size="10" dy="1.8">0</tspan><tspan dy="-1.8" dx="0.4">[10</tspan><tspan font-size="10" dy="-5.2">4</tspan><tspan dy="5.2">K]</tspan></text>
<g fill="none" stroke="#111" stroke-width="1.15" stroke-linecap="round"><path d="M6.4 429.1C8.2 429.9 9.6 430.8 10.9 431.6L14.6 431.95M6.7 434.3C6.3 433.1 8.6 432.3 10.9 431.6"/></g>
<circle cx="14.5" cy="431.95" r="0.95" fill="#111"/><circle cx="6.75" cy="434.2" r="0.75" fill="#111"/>
<text transform="translate(12.9 590.4) rotate(-90)" font-size="14.4" text-anchor="middle">T<tspan font-size="10" dy="2.2">Δ</tspan><tspan font-size="7" dy="0">⋆</tspan><tspan dy="-2.2" dx="1.2">[10</tspan><tspan font-size="10" dy="-5.2">4</tspan><tspan dy="5.2">K]</tspan></text>
</svg>
</body></html>
